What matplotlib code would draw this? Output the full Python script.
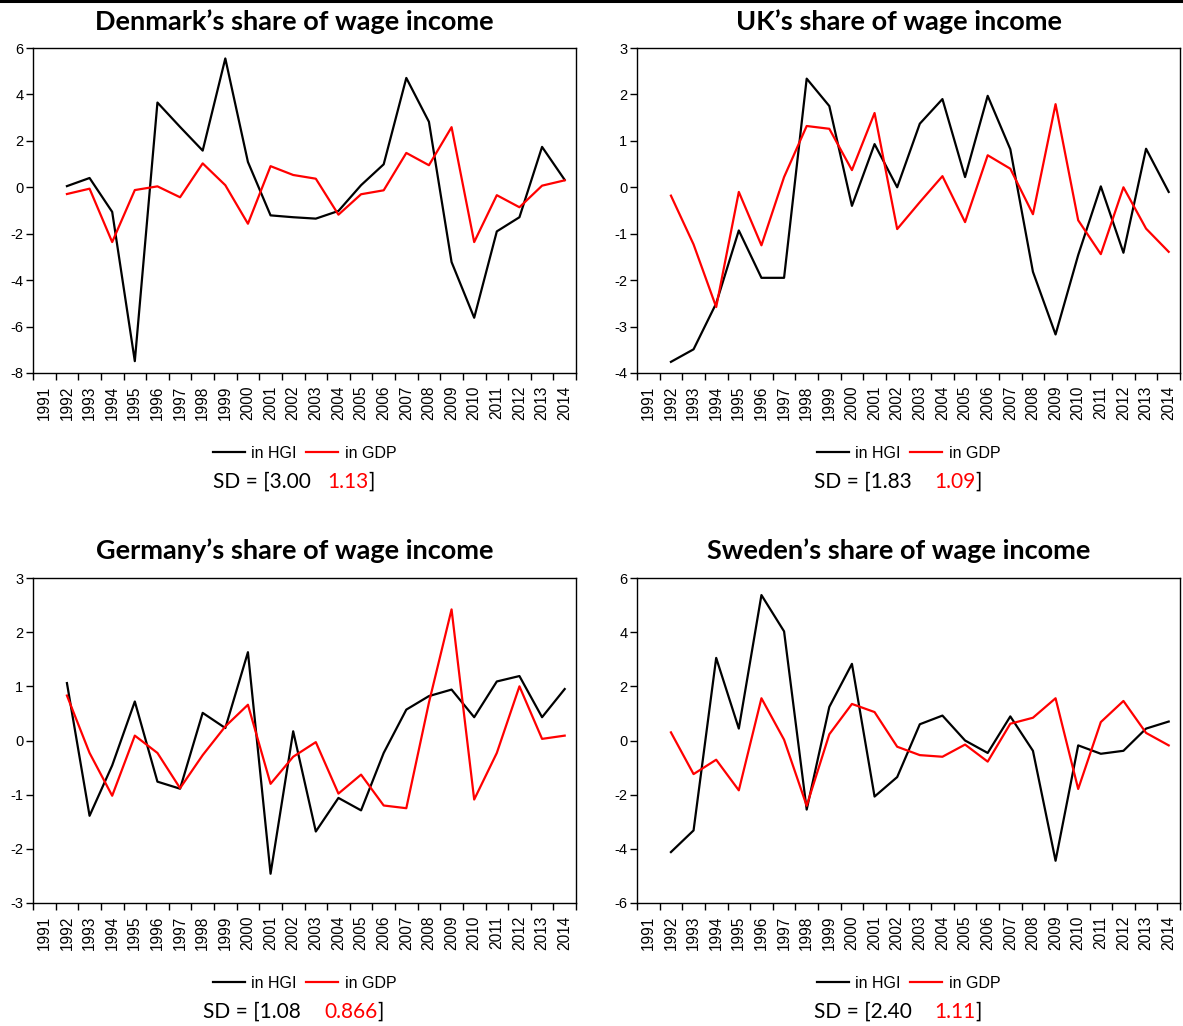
import matplotlib
matplotlib.use("Agg")
import matplotlib.pyplot as plt
from matplotlib.lines import Line2D

# ---------------- podaci ----------------
godine = list(range(1992, 2015))

dk_hgi = [0.05, 0.4, -1.06, -7.49, 3.65, 2.6, 1.58, 5.55, 1.09, -1.21, -1.29, -1.35,
          -1.02, 0.09, 0.99, 4.71, 2.82, -3.22, -5.62, -1.9, -1.29, 1.74, 0.32]
dk_gdp = [-0.29, -0.06, -2.36, -0.12, 0.04, -0.43, 1.03, 0.09, -1.57, 0.91, 0.53, 0.37,
          -1.18, -0.3, -0.13, 1.48, 0.95, 2.59, -2.36, -0.34, -0.86, 0.07, 0.30]

uk_hgi = [-3.76, -3.49, -2.5, -0.93, -1.95, -1.95, 2.34, 1.75, -0.4, 0.93, 0.0, 1.37,
          1.9, 0.22, 1.97, 0.82, -1.82, -3.17, -1.46, 0.02, -1.41, 0.83, -0.1]
uk_gdp = [-0.18, -1.23, -2.58, -0.1, -1.25, 0.22, 1.32, 1.26, 0.37, 1.6, -0.9, -0.32,
          0.24, -0.75, 0.69, 0.4, -0.58, 1.79, -0.71, -1.44, 0.0, -0.89, -1.39]

de_hgi = [1.06, -1.39, -0.46, 0.72, -0.76, -0.89, 0.51, 0.23, 1.63, -2.46, 0.17, -1.68,
          -1.06, -1.29, -0.23, 0.57, 0.82, 0.94, 0.43, 1.09, 1.19, 0.43, 0.95]
de_gdp = [0.83, -0.23, -1.02, 0.09, -0.23, -0.88, -0.27, 0.26, 0.66, -0.8, -0.3, -0.03,
          -0.98, -0.63, -1.2, -1.25, 0.7, 2.42, -1.09, -0.23, 1.0, 0.03, 0.09]

se_hgi = [-4.12, -3.32, 3.05, 0.44, 5.37, 4.03, -2.55, 1.24, 2.83, -2.07, -1.35, 0.6,
          0.92, 0.0, -0.46, 0.89, -0.38, -4.44, -0.18, -0.49, -0.38, 0.44, 0.7]
se_gdp = [0.3, -1.24, -0.71, -1.84, 1.56, 0.03, -2.41, 0.23, 1.35, 1.05, -0.23, -0.54,
          -0.6, -0.15, -0.78, 0.62, 0.84, 1.56, -1.79, 0.68, 1.46, 0.28, -0.18]

naslovi = ["Denmark\u2019s share of wage income", "UK\u2019s share of wage income",
           "Germany\u2019s share of wage income", "Sweden\u2019s share of wage income"]
sd_hgi = ["3.00", "1.83", "1.08", "2.40"]
sd_gdp = ["1.13", "1.09", "0.866", "1.11"]
y_granice = [(-8, 6, 2), (-4, 3, 1), (-3, 3, 1), (-6, 6, 2)]

# ---------------- raspored (pikseli) ----------------
W, H = 1183, 1026
lijevo = [33, 637, 33, 637]
dno = [373, 373, 903, 903]
SIR, VIS = 543, 325
naslov_y = [22, 22, 551, 551]
legenda_y = [453, 453, 983, 983]
sd_y = [482, 482, 1012, 1012]
sd_x1 = [213, 814, 203, 814]
sd_x2 = [327, 934, 324, 934]

fig = plt.figure(figsize=(W / 100, H / 100), dpi=100)
fig.add_artist(Line2D([0, 1], [1 - 1 / H, 1 - 1 / H], color="black", lw=2.2,
                      transform=fig.transFigure))

serije = [(dk_hgi, dk_gdp), (uk_hgi, uk_gdp), (de_hgi, de_gdp), (se_hgi, se_gdp)]
tick_font = "Liberation Sans"

for i in range(4):
    ax = fig.add_axes([lijevo[i] / W, 1 - dno[i] / H, SIR / W, VIS / H])
    hgi, gdp = serije[i]
    l1, = ax.plot(godine, hgi, color="black", lw=1.6, label="in HGI")
    l2, = ax.plot(godine, gdp, color="#ff0000", lw=1.6, label="in GDP")

    ax.set_xlim(1990.5, 2014.5)
    ax.set_xticks([g + 0.5 for g in range(1990, 2015)])
    ax.set_xticklabels([])
    ax.set_xticks(list(range(1991, 2015)), minor=True)
    ax.set_xticklabels([str(g) for g in range(1991, 2015)], minor=True,
                       rotation=90, fontsize=11.2, family=tick_font)
    ax.tick_params(axis="x", which="major", direction="out", length=5, width=1)
    ax.tick_params(axis="x", which="minor", length=0, pad=9)

    ymin, ymax, korak = y_granice[i]
    ax.set_ylim(ymin, ymax)
    ax.set_yticks(list(range(ymin, ymax + 1, korak)))
    ax.set_yticklabels([str(v) for v in range(ymin, ymax + 1, korak)],
                       fontsize=10.5, family=tick_font)
    ax.tick_params(axis="y", direction="out", length=5, width=1, pad=2)
    for s in ax.spines.values():
        s.set_linewidth(1.0)

    cx = lijevo[i] + SIR / 2
    fig.text((cx - 10) / W, 1 - naslov_y[i] / H, naslovi[i], ha="center", va="center",
             fontsize=19.5, fontweight="bold", family="Lato")

    fig.legend(handles=[l1, l2], loc="center", bbox_to_anchor=(cx / W, 1 - legenda_y[i] / H),
               bbox_transform=fig.transFigure, ncol=2, frameon=False,
               prop={"family": tick_font, "size": 11.5}, handlelength=2.0,
               handletextpad=0.4, columnspacing=0.6, borderaxespad=0, borderpad=0)

    t1 = fig.text(sd_x1[i] / W, 1 - sd_y[i] / H, "SD = [" + sd_hgi[i], ha="left", va="center",
                  fontsize=15, family="Lato")
    t2 = fig.text(sd_x2[i] / W, 1 - sd_y[i] / H, sd_gdp[i], ha="left", va="center",
                  fontsize=15, family="Lato", color="#ff0000")
    ax.annotate("]", xy=(1, 0), xycoords=t2, ha="left", va="bottom",
                fontsize=15, family="Lato")

fig.savefig("out.png", dpi=100)
